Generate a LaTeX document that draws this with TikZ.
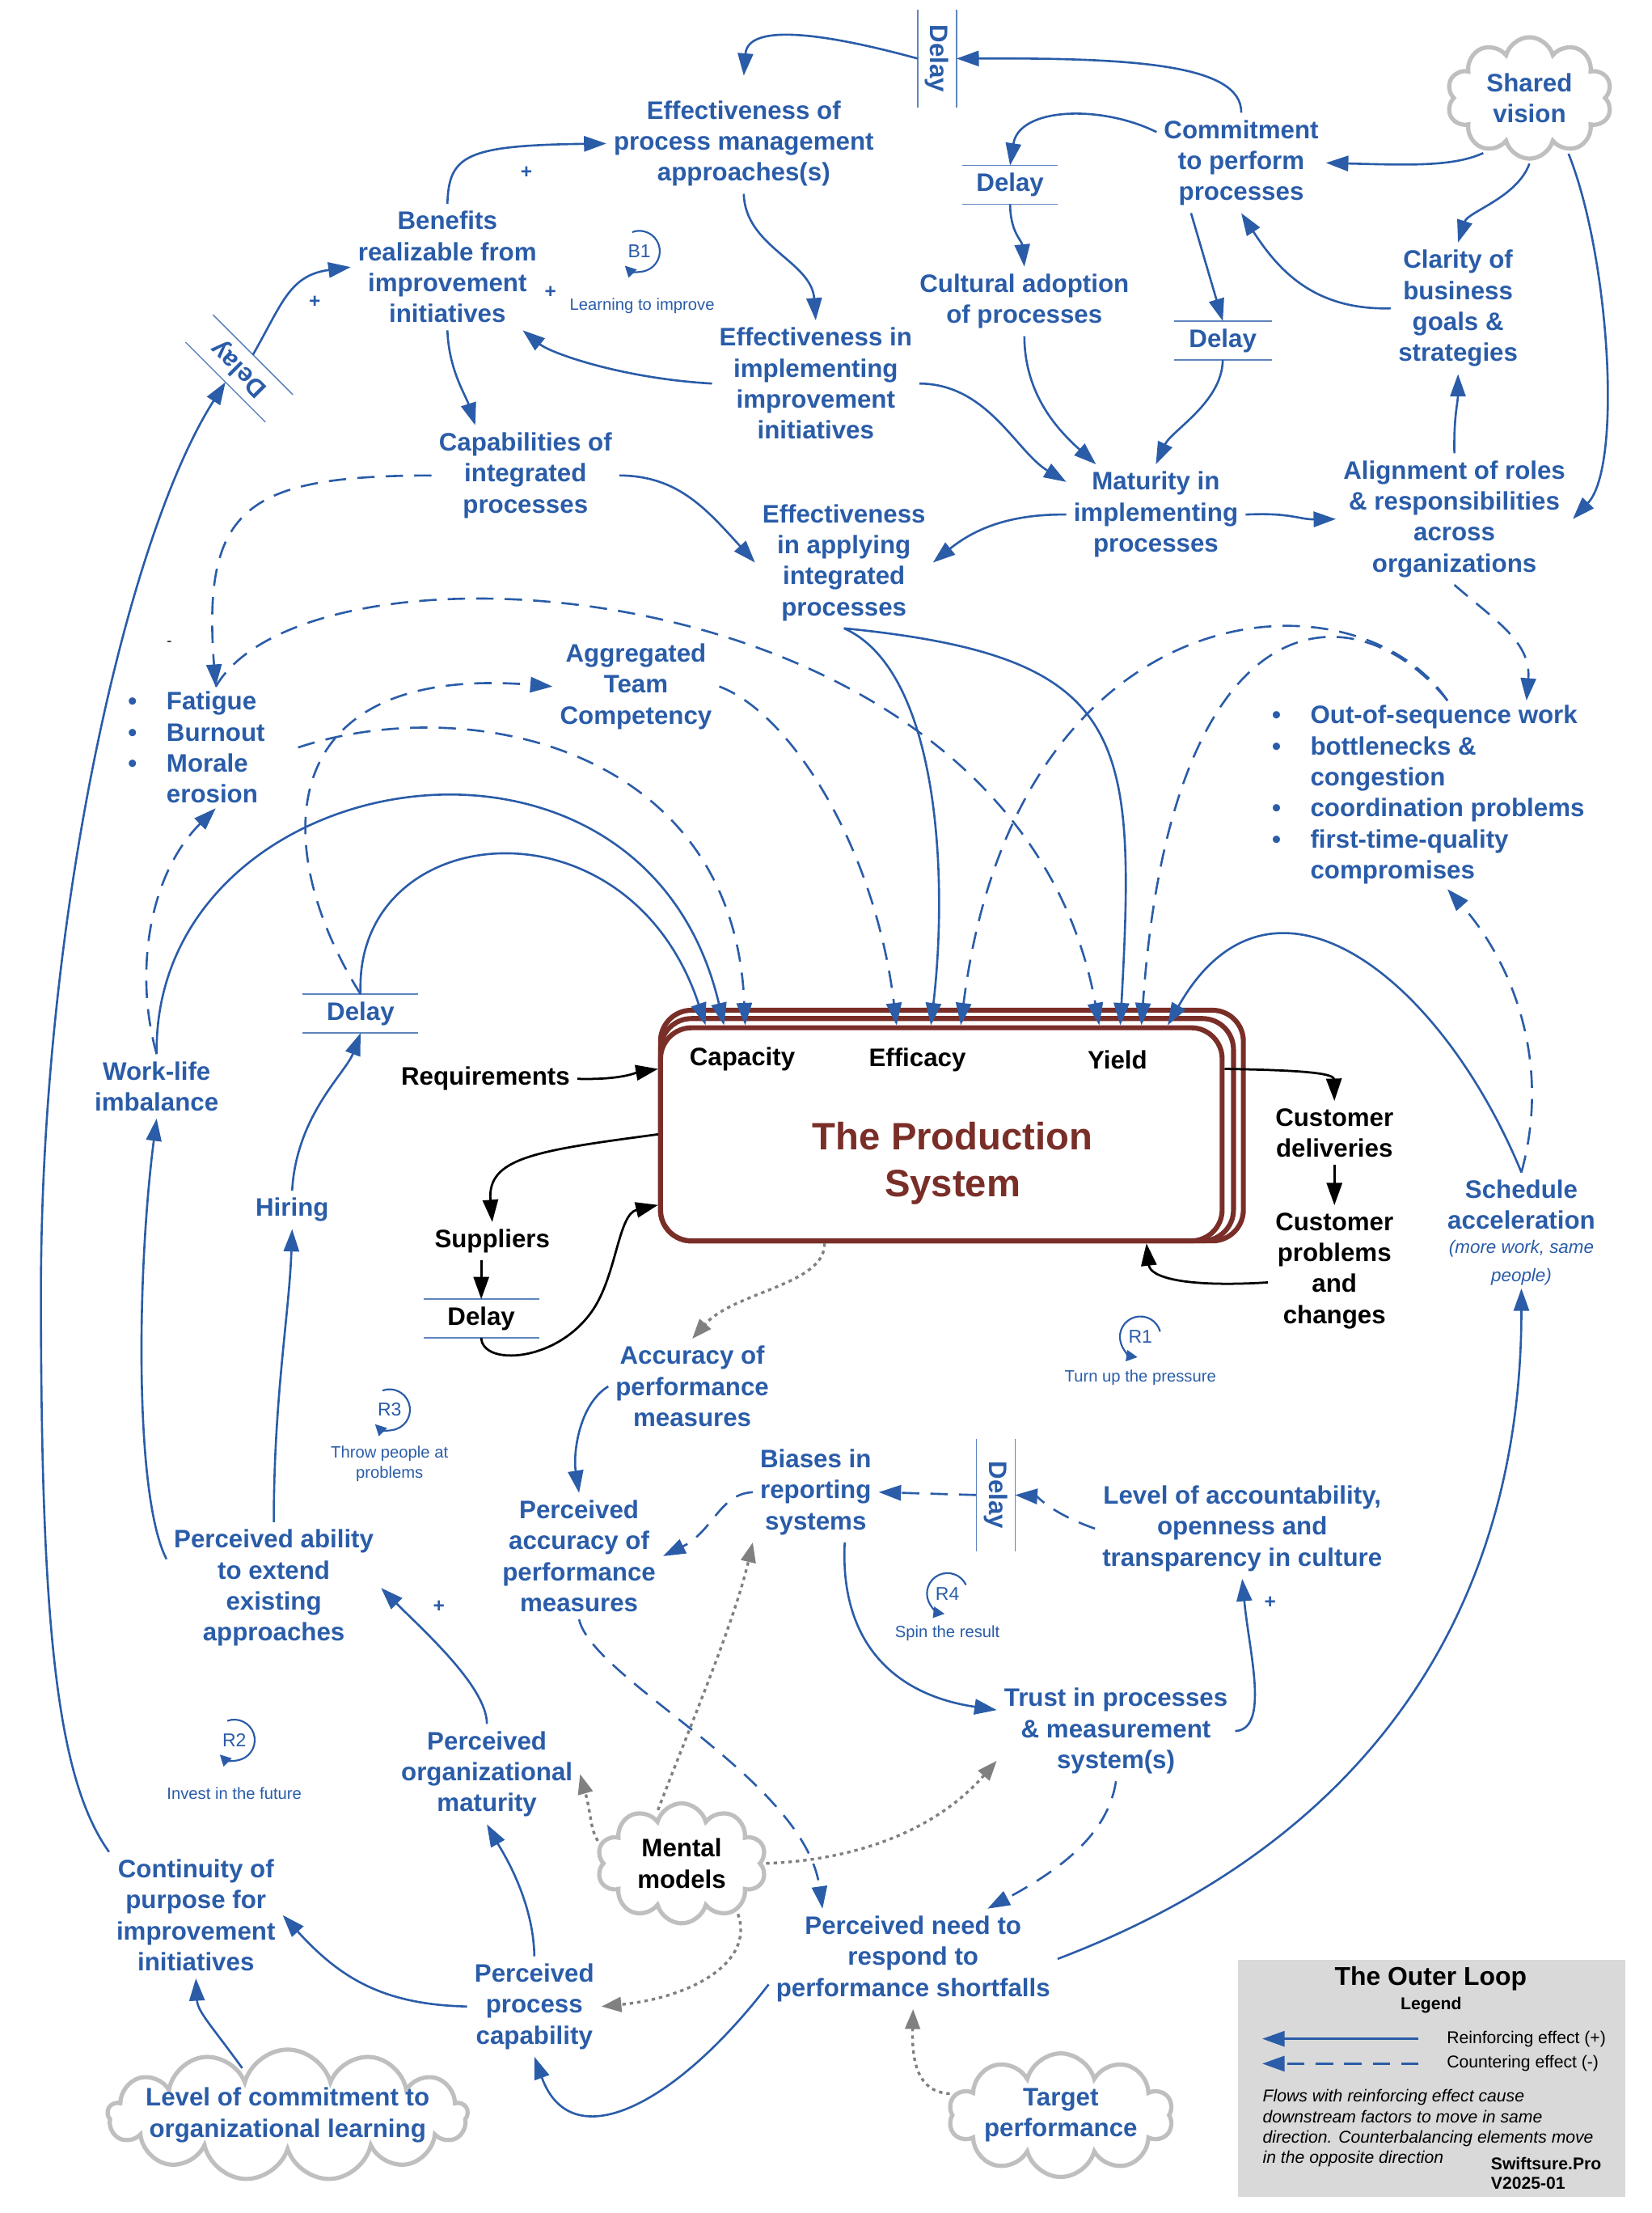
\documentclass[tikz,border=0pt]{standalone}
\usepackage{fontspec}
\setmainfont{Liberation Sans}
\usetikzlibrary{arrows.meta,shapes.symbols,calc}
\definecolor{MyBlue}{HTML}{2A5CA8}
\definecolor{MyRed}{HTML}{7A2E28}
\definecolor{MyGray}{HTML}{808080}
\definecolor{MyCloud}{HTML}{BFBFBF}
\definecolor{MyKey}{HTML}{D9D9D9}
\newcommand{\itm}{\llap{\textbullet\hspace{0.42cm}}}

\tikzset{
  lbl/.style={font=\fontsize{10.2}{12.5}\selectfont\bfseries, align=center, inner sep=1pt, outer sep=2pt},
  var/.style={lbl, text=MyBlue},
  blk/.style={lbl, text=black},
  delay/.style={lbl, text=MyBlue, inner sep=0pt, outer sep=0pt, minimum height=0.55cm},
  delayline/.style={MyBlue!75, line width=0.5pt},
  vision/.style={cloud, cloud puffs=10, cloud ignores aspect, draw=MyCloud, line width=1.7pt, fill=white, inner sep=0pt},
  reinf/.style={MyBlue, line width=0.85pt, -{Triangle[length=9pt,width=6.2pt]}},
  counter/.style={reinf, dash pattern=on 7pt off 4.5pt},
  flow/.style={black, line width=0.9pt, -{Triangle[length=9pt,width=6.2pt]}},
  mindset/.style={MyGray, line width=1.1pt, dash pattern=on 1.4pt off 1.6pt, -{Triangle[length=8pt,width=6pt]}},
  loopid/.style={font=\fontsize{7.5}{8}\selectfont, text=MyBlue, inner sep=0pt},
  looparc/.style={MyBlue, line width=0.7pt, -{Triangle[length=4.5pt,width=4.5pt]}},
  looplbl/.style={font=\fontsize{6.6}{8.3}\selectfont, text=MyBlue, align=center, inner sep=0pt},
  plus/.style={font=\fontsize{8}{8}\selectfont\bfseries, text=MyBlue, inner sep=0pt},
  keytxt/.style={font=\fontsize{6.9}{8.25}\selectfont, inner sep=0pt}
}

\begin{document}
\begin{tikzpicture}[x=0.02cm, y=-0.02cm]
\useasboundingbox (0,0) rectangle (1170,1567.6);
%	\draw [step=50, gray, thin, opacity=0.5] (0,0) grid (1170,1567.6);

% the production system
\draw[MyRed, line width=2pt, rounded corners=0.44cm] (468,879) rectangle (881,715.6);
\draw[MyRed, line width=2pt, rounded corners=0.44cm] (468,879) rectangle (874,721.5);
\node[draw=MyRed, line width=2pt, rounded corners=0.44cm, fill=white, minimum width=7.96cm, minimum height=3.02cm, inner sep=0pt] (prod) at (667,803.5) {};
\node[font=\fontsize{15.4}{18.8}\selectfont\bfseries, text=MyRed, align=center] (title) at (675,824) {The Production\\System};
\node[blk] (capacity) at (526,750) {Capacity};
\node[blk] (efficacy) at (650,751) {Efficacy};
\node[blk] (yield) at (791.8,751) {Yield};

% upper factors
\node[var] (effmgmt) at (527,101.7) {Effectiveness of\\process management\\approaches(s)};
\node[var] (benefits) at (317,189.2) {Benefits\\realizable from\\improvement\\initiatives};
\node[var] (capab) at (372.3,336.8) {Capabilities of\\integrated\\processes};
\node[var] (effimpl) at (578,271.7) {Effectiveness in\\implementing\\improvement\\initiatives};
\node[var] (cultural) at (725.8,213.5) {Cultural adoption\\of processes};
\node[var] (commit) at (879.5,115.4) {Commitment\\to perform\\processes};
\node[var] (clarity) at (1033.1,218.4) {Clarity of\\business\\goals \&\\strategies};
\node[var] (align) at (1030.5,367.7) {Alignment of roles\\\& responsibilities\\across\\organizations};
\node[var] (maturity) at (819,364.5) {Maturity in\\implementing\\processes};
\node[var] (effapply) at (598,398.5) {Effectiveness\\in applying\\integrated\\processes};
\node[var, vision, minimum width=2.34cm, minimum height=1.72cm] (shared) at (1083.7,69.4) {Shared\\vision};

% delays
\node[delay, rotate=-90, minimum width=1.38cm] (delayA) at (664,41.5) {Delay};
\node[delay, minimum width=1.36cm] (delayB) at (715.7,131) {Delay};
\node[delay, minimum width=1.39cm] (delayC) at (866.4,241.2) {Delay};
\node[delay, rotate=135, minimum width=1.6cm] (delayD) at (169.5,261) {Delay};
\node[delay, minimum width=1.64cm] (delayE) at (255.5,718) {Delay};
\node[delay, text=black, minimum width=1.64cm] (delayF) at (341,934) {Delay};
\node[delay, rotate=-90, minimum width=1.6cm] (delayG) at (705.5,1059) {Delay};
\foreach \d in {delayA,delayB,delayC,delayD,delayE,delayF,delayG}
  \draw[delayline] (\d.north west) -- (\d.north east) (\d.south west) -- (\d.south east);

% middle factors
\node[var] (aggr) at (450.6,486.3) {Aggregated\\Team\\Competency};
\node[var, align=left, anchor=west, inner sep=0pt] (fatigue) at (114.5,529.5) {\itm Fatigue\\\itm Burnout\\\itm Morale\\erosion};
\node[var, align=left, anchor=west, inner sep=0pt] (outseq) at (925,563) {\itm Out-of-sequence work\\\itm bottlenecks \&\\congestion\\\itm coordination problems\\\itm first-time-quality\\compromises};
\node[var] (worklife) at (111,769.5) {Work-life\\imbalance};
\node[var] (hiring) at (207,857) {Hiring};
\node[blk] (requirements) at (344,764.2) {Requirements};
\node[blk] (suppliers) at (348.8,879.3) {Suppliers};
\node[blk] (custdel) at (945.5,802.4) {Customer\\deliveries};
\node[blk] (custprob) at (945.5,900.1) {Customer\\problems\\and\\changes};
\node[var] (schedule) at (1078,853.3) {Schedule\\acceleration};
\node[font=\fontsize{7.3}{11.6}\selectfont\itshape, text=MyBlue, align=center, inner sep=1pt] (schednote) at (1078,894.4) {(more work, same\\people)};
\node[font=\fontsize{6}{6}\selectfont] (tick) at (120,456) {-};

% lower factors
\node[var] (accuracy) at (490.5,982.1) {Accuracy of\\performance\\measures};
\node[var] (percacc) at (410.3,1102.3) {Perceived\\accuracy of\\performance\\measures};
\node[var] (biases) at (578,1057) {Biases in\\reporting\\systems};
\node[var] (level) at (880.2,1082.8) {Level of accountability,\\openness and\\transparency in culture};
\node[var] (trust) at (790.7,1226.2) {Trust in processes\\\& measurement\\system(s)};
\node[var] (percneed) at (647,1387.6) {Perceived need to\\respond to\\performance shortfalls};
\node[var] (percabil) at (194,1124.8) {Perceived ability\\to extend\\existing\\approaches};
\node[var] (percorg) at (345,1256.7) {Perceived\\organizational\\maturity};
\node[var] (perccap) at (378.6,1421.3) {Perceived\\process\\capability};
\node[var] (continuity) at (138.8,1356.6) {Continuity of\\purpose for\\improvement\\initiatives};
\node[var, vision, minimum width=5.1cm, minimum height=1.86cm, cloud puffs=13, inner xsep=-0.32cm, inner ysep=-0.05cm] (levcommit) at (203.8,1498.3) {Level of commitment to\\organizational learning};
\node[blk, vision, minimum width=2.4cm, minimum height=1.7cm] (mental) at (483,1319.9) {Mental\\models};
\node[var, vision, minimum width=3.1cm, minimum height=1.7cm] (target) at (751.6,1498.3) {Target\\performance};

% signs
\node[plus] (p1) at (373,122) {+};
\node[plus] (p2) at (390,207) {+};
\node[plus] (p3) at (223,214) {+};
\node[plus] (p4) at (311,1138) {+};
\node[plus] (p5) at (900,1135) {+};

% loops
\node[loopid] (B1) at (453,178) {B1};
\draw[looparc] ([shift={(110:0.29cm)}]B1.center) arc[start angle=110, end angle=-135, radius=0.29cm];
\node[looplbl] (B1txt) at (455,216.8) {Learning to improve};
\node[loopid] (R1) at (808,947) {R1};
\draw[looparc] ([shift={(15:0.29cm)}]R1.center) arc[start angle=15, end angle=262, radius=0.29cm];
\node[looplbl] (R1txt) at (808,975.7) {Turn up the pressure};
\node[loopid] (R3) at (276,998.6) {R3};
\draw[looparc] ([shift={(110:0.29cm)}]R3.center) arc[start angle=110, end angle=-135, radius=0.29cm];
\node[looplbl] (R3txt) at (276,1037) {Throw people at\\problems};
\node[loopid] (R2) at (166,1232.6) {R2};
\draw[looparc] ([shift={(110:0.29cm)}]R2.center) arc[start angle=110, end angle=-135, radius=0.29cm];
\node[looplbl] (R2txt) at (166,1270.3) {Invest in the future};
\node[loopid] (R4) at (671.3,1128.8) {R4};
\draw[looparc] ([shift={(25:0.29cm)}]R4.center) arc[start angle=25, end angle=262, radius=0.29cm];
\node[looplbl] (R4txt) at (671.3,1157) {Spin the result};

% reinforcing links
\draw[reinf] (commit.north) .. controls (880,45) and (800,41) .. (delayA.north);
\draw[reinf] (delayA.south) .. controls (590,25) and (530,15) .. ([yshift=0.25cm]effmgmt.north);
\draw[reinf] (commit.160) .. controls (780,74) and (722,76) .. (delayB.north);
\draw[reinf] (delayB.south) .. controls (716,165) and (724,170) .. (cultural.north);
\draw[reinf] (cultural.south) .. controls (726,280) and (750,305) .. (maturity.140);
\draw[reinf] (commit.225) -- (delayC.north);
\draw[reinf] (delayC.south) .. controls (866,285) and (830,305) .. (maturity.north);
\draw[reinf] (effimpl.east) .. controls (700,272) and (720,320) .. (maturity.160);
\draw[reinf] (maturity.west) .. controls (715,364) and (690,375) .. (effapply.east);
\draw[reinf] (maturity.east) .. controls (915,363) and (920,368) .. (align.west);
\draw[reinf] (align.north) .. controls (1030,295) and (1033,285) .. (clarity.south);
\draw[reinf] (clarity.west) .. controls (930,220) and (905,190) .. (commit.south);
\draw[reinf] (shared.230) .. controls (1030,118) and (1000,117) .. (commit.east);
\draw[reinf] (shared.south) .. controls (1075,140) and (1040,150) .. (clarity.north);
\draw[reinf] (shared.-55) .. controls (1140,180) and (1150,330) .. (align.east);
\draw[reinf] (benefits.north) .. controls (318,110) and (330,103) .. (effmgmt.west);
\draw[reinf] (effmgmt.south) .. controls (528,175) and (575,185) .. (effimpl.north);
\draw[reinf] (effimpl.west) .. controls (440,268) and (390,250) .. (benefits.-40);
\draw[reinf] (benefits.south) .. controls (318,262) and (330,280) .. (capab.135);
\draw[reinf] (delayD.south) .. controls (200,215) and (205,195) .. (benefits.west);
\draw[reinf] (continuity.north west) .. controls (40,1260) and (29,1150) .. (29,916) .. controls (29,650) and (90,380) .. (delayD.north);
\draw[reinf] (capab.east) .. controls (480,337) and (500,360) .. (effapply.west);
\draw[reinf] (effapply.south) .. controls (665,475) and (672,620) .. ($(prod.north west)+(193.3,0)$);
\draw[reinf] (effapply.south) .. controls (800,465) and (805,520) .. ($(prod.north west)+(327.5,0)$);
\draw[reinf] (worklife.north) .. controls (108,540) and (455,480) .. ($(prod.north west)+(46.7,0)$);
\draw[reinf] (delayE.north) .. controls (250,580) and (445,560) .. ($(prod.north west)+(33.7,0)$);
\draw[reinf] (hiring.north) .. controls (210,790) and (245,760) .. (delayE.south);
\draw[reinf] (percabil.north) .. controls (194,990) and (205,930) .. (hiring.south);
\draw[reinf] (percabil.165) .. controls (95,1060) and (97,900) .. (worklife.south);
\draw[reinf] (percorg.north) .. controls (345,1195) and (300,1155) .. (percabil.east);
\draw[reinf] (perccap.north) .. controls (378,1345) and (355,1310) .. (percorg.south);
\draw[reinf] (perccap.west) .. controls (270,1420) and (240,1400) .. (continuity.east);
\draw[reinf] (levcommit.132) .. controls (150,1435) and (140,1425) .. (continuity.south);
\draw[reinf] (percneed.190) .. controls (480,1490) and (405,1530) .. (perccap.south);
\draw[reinf] (percneed.east) .. controls (980,1300) and (1078,1130) .. (schednote.south);
\draw[reinf] (schedule.north) .. controls (1020,690) and (900,598) .. ($(prod.north west)+(361.1,0)$);
\draw[reinf] (trust.east) .. controls (900,1225) and (885,1170) .. (level.south);
\draw[reinf] (biases.-60) .. controls (595,1160) and (630,1200) .. (trust.170);
\draw[reinf] (accuracy.west) .. controls (410,995) and (406,1030) .. (percacc.north);

% countering links
\draw[counter] (capab.west) .. controls (175,337) and (143,359) .. (fatigue.north);
\draw[counter] (fatigue.north) .. controls (220,370) and (720,401) .. ($(prod.north west)+(312.6,0)$);
\draw[counter] ([xshift=0.4cm]fatigue.east) .. controls (330,490) and (520,528) .. ($(prod.north west)+(61.7,0)$);
\draw[counter] (delayE.north) .. controls (190,600) and (192,470) .. (aggr.west);
\draw[counter] (aggr.east) .. controls (560,505) and (620,600) .. ($(prod.north west)+(169,0)$);
\draw[counter] (worklife.north) .. controls (95,690) and (105,620) .. (fatigue.south);
\draw[counter] (outseq.north) .. controls (960,400) and (720,415) .. ($(prod.north west)+(214.5,0)$);
\draw[counter] (outseq.north) .. controls (960,415) and (830,420) .. ($(prod.north west)+(342.5,0)$);
\draw[counter] (align.south) .. controls (1060,440) and (1085,455) .. (outseq.50);
\draw[counter] (schedule.north) .. controls (1100,750) and (1070,680) .. (outseq.south);
\draw[counter] (delayG.south) -- (biases.east);
\draw[counter] (level.west) .. controls (745,1072) and (735,1060) .. (delayG.north);
\draw[counter] (biases.west) .. controls (510,1058) and (505,1085) .. (percacc.east);
\draw[counter] (percacc.south) .. controls (420,1190) and (570,1260) .. (percneed.151);
\draw[counter] (trust.south) .. controls (785,1300) and (750,1325) .. (percneed.34);

% material flow
\draw[flow] (requirements.east) .. controls (440,765) and (450,760) .. (prod.167);
\draw[flow] (prod.west) .. controls (380,815) and (345,820) .. (suppliers.north);
\draw[flow] (delayF.north |- suppliers.south) -- (delayF.north);
\draw[flow] (delayF.south) .. controls (342,968) and (395,965) .. (420,928) .. controls (437,903) and (438,860) .. (prod.194);
\draw[flow] (prod.13) .. controls (920,758) and (945,760) .. (custdel.north);
\draw[flow] (custdel.south) -- (custprob.north);
\draw[flow] (custprob.190) .. controls (840,912) and (815,905) .. (prod.-28);

% mental models
\draw[mindset] (prod.223) .. controls (585,910) and (520,915) .. (accuracy.north);
\draw[mindset] (mental.165) .. controls (418,1295) and (419,1285) .. (percorg.east);
\draw[mindset] (mental.114) .. controls (490,1220) and (520,1150) .. (biases.south west);
\draw[mindset] (mental.east) .. controls (600,1318) and (660,1300) .. (trust.194);
\draw[mindset] (mental.-42) .. controls (535,1390) and (490,1415) .. (perccap.east);
\draw[mindset] (target.169) .. controls (650,1482) and (646,1460) .. (percneed.south);

% legend
\node[fill=MyKey, minimum width=5.49cm, minimum height=3.36cm, inner sep=0pt] (key) at (1014.6,1472.2) {};
\node[font=\fontsize{10.4}{12}\selectfont\bfseries] (keytitle) at (1013.7,1401.3) {The Outer Loop};
\node[keytxt, font=\fontsize{6.9}{8}\selectfont\bfseries] (keysub) at (1014,1420.4) {Legend};
\node[keytxt, anchor=west] (keyplus) at (1024.8,1444.2) {Reinforcing effect (+)};
\node[keytxt, anchor=west] (keyminus) at (1024.8,1461.8) {Countering effect (-)};
\draw[reinf] ($(keyplus.west)+(-19.6,0)$) -- ($(keyplus.west)+(-130.4,0)$);
\draw[counter] ($(keyminus.west)+(-19.6,0)$) -- ($(keyminus.west)+(-130.4,0)$);
\node[keytxt, font=\fontsize{6.9}{8.25}\selectfont\itshape, align=left, anchor=west] (keynote) at (894.4,1507.6) {Flows with reinforcing effect cause\\downstream factors to move in same\\direction. Counterbalancing elements move\\in the opposite direction};
\node[keytxt, font=\fontsize{6.9}{7.9}\selectfont\bfseries, align=left, anchor=west] (keysign) at (1056.1,1539.5) {Swiftsure.Pro\\V2025-01};
\end{tikzpicture}
\end{document}
